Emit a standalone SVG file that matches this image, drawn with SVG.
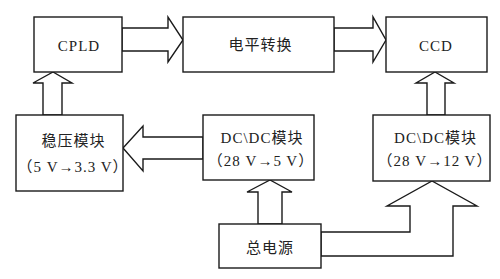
<svg xmlns="http://www.w3.org/2000/svg" width="500" height="279" viewBox="0 0 500 279">
<style>
.box{fill:#fff;stroke:#1a1a1a;stroke-width:1.4}
.arr{fill:#fff;stroke:#1a1a1a;stroke-width:1.4;stroke-linejoin:miter}
text{font-family:"Liberation Serif","Noto Sans CJK SC",serif;font-size:15px;fill:#222;text-anchor:middle;letter-spacing:1px}
</style>
<rect width="500" height="279" fill="#fff"/>
<g id="connectors">
<polygon class="arr" points="122,28 168,28 168,17 183,40 168,62 168,51 122,51"/>
<polygon class="arr" points="334,28 373,28 373,17 386,40 373,62 373,51 334,51"/>
<polygon class="arr" points="43,115 43,83 33,83 53,72 72,83 62,83 62,115"/>
<polygon class="arr" points="427,115 427,83 416,83 435,72 454,83 445,83 445,115"/>
<polygon class="arr" points="203,137 143,137 143,126 123,148 143,171 143,159 203,159"/>
<polygon class="arr" points="258,224 258,192 247,192 270,180 292,192 282,192 282,224"/>
<polygon class="arr" points="321,232 410,232 410,206 387,206 432,181 477,206 453,206 453,256 321,256"/>
</g>
<g id="cpld"><rect class="box" x="34" y="17" width="88" height="55"/><text x="79" y="50.5">CPLD</text></g>
<g id="level"><rect class="box" x="183" y="17" width="151" height="55"/><text x="260.5" y="50">电平转换</text></g>
<g id="ccd"><rect class="box" x="386" y="17" width="101" height="55"/><text x="436" y="50.5">CCD</text></g>
<g id="regulator"><rect class="box" x="16" y="115" width="107" height="76"/><text x="73.5" y="145.5">稳压模块</text><text x="73" y="171.5">（5 V→3.3 V）</text></g>
<g id="dcdc5"><rect class="box" x="203" y="115" width="111" height="65"/><text x="262" y="142.5">DC\DC模块</text><text x="261" y="166">（28 V→5 V）</text></g>
<g id="dcdc12"><rect class="box" x="373" y="115" width="117" height="66"/><text x="435.5" y="142.5">DC\DC模块</text><text x="435" y="166">（28 V→12 V）</text></g>
<g id="power"><rect class="box" x="219" y="224" width="102" height="44"/><text x="270" y="252.5">总电源</text></g>
</svg>
